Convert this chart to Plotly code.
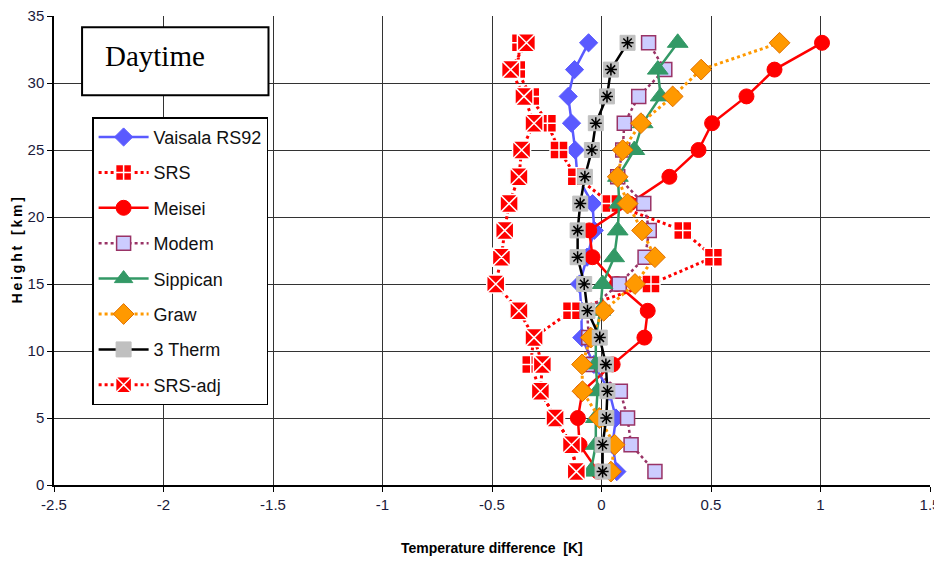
import plotly.graph_objects as go

heights = [1, 3, 5, 7, 9, 11, 13, 15, 17, 19, 21, 23, 25, 27, 29, 31, 33]

vaisala = [0.07, 0.05, 0.066, 0.035, -0.035, -0.09, -0.092, -0.1, -0.066, -0.033, -0.041, -0.11, -0.12, -0.137, -0.152, -0.123, -0.059]
srs = [-0.112, -0.138, -0.21, -0.279, -0.323, -0.31, -0.137, 0.226, 0.511, 0.371, 0.043, -0.115, -0.194, -0.247, -0.323, -0.387, -0.37]
meisei = [-0.015, -0.1, -0.108, -0.087, 0.051, 0.196, 0.211, 0.07, -0.041, -0.056, 0.127, 0.31, 0.443, 0.505, 0.662, 0.79, 1.007]
modem = [0.244, 0.135, 0.119, 0.086, -0.064, -0.058, -0.066, 0.081, 0.199, 0.218, 0.193, 0.074, 0.097, 0.104, 0.17, 0.289, 0.215]
sippican = [-0.049, -0.026, -0.026, -0.018, -0.026, -0.026, -0.006, 0.005, 0.058, 0.074, 0.081, 0.075, 0.15, 0.188, 0.27, 0.257, 0.348]
graw = [0.043, 0.06, -0.01, -0.087, -0.089, -0.049, 0.01, 0.153, 0.244, 0.185, 0.119, 0.074, 0.097, 0.18, 0.325, 0.455, 0.813]
therm3 = [0.005, 0.005, 0.022, 0.027, 0.02, -0.008, -0.064, -0.079, -0.109, -0.109, -0.097, -0.076, -0.044, -0.026, 0.025, 0.043, 0.119]
srs_adj = [-0.115, -0.137, -0.212, -0.279, -0.27, -0.308, -0.377, -0.483, -0.457, -0.442, -0.422, -0.377, -0.365, -0.308, -0.354, -0.415, -0.343]

x_ticks = [-2.5, -2, -1.5, -1, -0.5, 0, 0.5, 1, 1.5]
x_tick_labels = ["-2.5", "-2", "-1.5", "-1", "-0.5", "0", "0.5", "1", "1.5"]
y_ticks = [0, 5, 10, 15, 20, 25, 30, 35]
y_tick_labels = ["0", "5", "10", "15", "20", "25", "30", "35"]

fig = go.Figure()

def add(name, xs, line, marker, group):
    fig.add_trace(go.Scatter(x=xs, y=heights, mode="lines+markers", name=name,
                             line=line, marker=marker, legendgroup=group))

add("Vaisala RS92", vaisala, dict(color="#5a5aff", width=2.5),
    dict(symbol="diamond", size=14, color="#5a5aff", line=dict(color="#5a5aff", width=1)), "g1")
add("SRS", srs, dict(color="#ff0000", width=3, dash="dot"),
    dict(symbol="square-cross", size=18, color="#ff0000", line=dict(color="#ffffff", width=1.5)), "g2")
add("Meisei", meisei, dict(color="#ff0000", width=2.5),
    dict(symbol="circle", size=15, color="#ff0000", line=dict(color="#ff0000", width=1)), "g3")
add("Modem", modem, dict(color="#993366", width=2.5, dash="dot"),
    dict(symbol="square", size=14, color="#ccccff", line=dict(color="#993366", width=1.5)), "g4")
add("Sippican", sippican, dict(color="#339966", width=2.5),
    dict(symbol="triangle-up", size=18, color="#339966", line=dict(color="#339966", width=1)), "g5")
add("Graw", graw, dict(color="#ff9900", width=3, dash="dot"),
    dict(symbol="diamond", size=16, color="#ff9900", line=dict(color="#e07000", width=1)), "g6")
add("3 Therm", therm3, dict(color="#000000", width=2.5),
    dict(symbol="square", size=15, color="#c0c0c0", line=dict(color="#c0c0c0", width=1)), "g7")
fig.add_trace(go.Scatter(x=therm3, y=heights, mode="markers", showlegend=False, legendgroup="g7",
                         marker=dict(symbol="asterisk-open", size=10, color="#000000",
                                     line=dict(color="#000000", width=1.5)),
                         hoverinfo="skip"))
add("SRS-adj", srs_adj, dict(color="#ff0000", width=3, dash="dot"),
    dict(symbol="square-x", size=18, color="#ff0000", line=dict(color="#ffffff", width=1.5)), "g8")

axis_font = dict(family="Liberation Sans Narrow, Arial Narrow, Liberation Sans, Arial", size=15, color="#1a1a3a")

fig.update_layout(
    width=934, height=555,
    margin=dict(l=46, r=12, t=8, b=78),
    paper_bgcolor="white", plot_bgcolor="white",
    showlegend=True,
    legend=dict(x=0.0435, y=0.784, xanchor="left", yanchor="top",
                bgcolor="white", bordercolor="#000000", borderwidth=1.5,
                font=dict(family="Liberation Sans, Arial", size=18, color="#111111"),
                traceorder="grouped", tracegroupgap=9, itemwidth=50),
    xaxis=dict(range=[-2.5, 1.5], tickvals=x_ticks, ticktext=x_tick_labels,
               showgrid=True, gridcolor="#333333", gridwidth=1, zeroline=False,
               showline=True, linecolor="#000000", linewidth=1.5,
               ticks="outside", ticklen=5, tickcolor="#000000", tickfont=axis_font,
               ticklabeloverflow="allow", automargin=False, mirror=False),
    yaxis=dict(range=[0, 35], tickvals=y_ticks, ticktext=y_tick_labels,
               showgrid=True, gridcolor="#333333", gridwidth=1, zeroline=False,
               showline=True, linecolor="#000000", linewidth=1.5,
               ticks="outside", ticklen=5, tickcolor="#000000", tickfont=axis_font,
               ticklabeloverflow="allow", automargin=False),
    shapes=[dict(type="rect", xref="paper", yref="paper",
                 x0=(82 - 54) / 874, x1=(268 - 54) / 874,
                 y0=(484.7 - 95) / 469, y1=(484.7 - 27) / 469,
                 line=dict(color="#000000", width=2), fillcolor="white", layer="above")],
    annotations=[
        dict(text="Daytime", xref="paper", yref="paper", x=(103 - 54) / 874, y=(484.7 - 56) / 469,
             xanchor="left", yanchor="middle", showarrow=False,
             font=dict(family="Liberation Serif, Times New Roman, serif", size=29, color="#000000")),
        dict(text="<b>Temperature difference  [K]</b>", xref="paper", yref="paper",
             x=0.5, y=(484.7 - 548) / 469, xanchor="center", yanchor="middle", showarrow=False,
             font=dict(family="Liberation Sans Narrow, Arial Narrow, Liberation Sans, Arial", size=14, color="#000000")),
        dict(text="<b>H\u2009e\u2009i\u2009g\u2009h\u2009t\u2002 [\u2009k\u2009m\u2009]</b>", xref="paper", yref="paper",
             x=(17 - 54) / 874, y=0.5, xanchor="center", yanchor="middle", showarrow=False, textangle=-90,
             font=dict(family="Liberation Sans, Arial", size=14, color="#000000")),
    ],
)

fig.write_html("out.html")
